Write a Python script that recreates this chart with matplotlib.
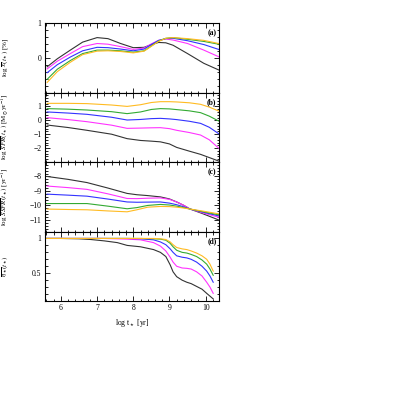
import numpy as np
import matplotlib
matplotlib.use("Agg")
import matplotlib.pyplot as plt
from matplotlib.ticker import MultipleLocator

plt.rcParams['font.family'] = ['Liberation Serif', 'DejaVu Serif']
plt.rcParams['mathtext.fontset'] = 'stix'

colors = ["#333333", "#ff33ff", "#3333ff", "#33aa33", "#ffbb22"]

# panel (a): log x(t*) [%]
t_a = [5.62, 5.9, 6.26, 6.6, 7.0, 7.3, 7.65, 8.0, 8.3, 8.5, 8.7, 8.9, 9.1, 9.5, 9.95, 10.36]
xa_black = [-0.26, -0.03, 0.22, 0.45, 0.58, 0.55, 0.41, 0.29, 0.30, 0.38, 0.44, 0.43, 0.36, 0.12, -0.16, -0.35]
xa_magenta = [-0.32, -0.10, 0.12, 0.32, 0.41, 0.39, 0.32, 0.24, 0.28, 0.40, 0.50, 0.54, 0.51, 0.41, 0.22, 0.03]
xa_blue = [-0.43, -0.20, 0.02, 0.20, 0.30, 0.29, 0.25, 0.20, 0.25, 0.38, 0.50, 0.55, 0.56, 0.49, 0.38, 0.24]
xa_green = [-0.62, -0.33, -0.08, 0.12, 0.22, 0.22, 0.20, 0.16, 0.20, 0.34, 0.48, 0.56, 0.58, 0.53, 0.47, 0.39]
xa_orange = [-0.71, -0.40, -0.13, 0.09, 0.19, 0.20, 0.18, 0.14, 0.19, 0.33, 0.47, 0.56, 0.58, 0.55, 0.50, 0.41]

# panel (b): log SFR(t*) [Msun/yr]
t_b = [5.62, 6.2, 6.72, 7.4, 7.83, 8.2, 8.5, 8.75, 9.0, 9.2, 9.55, 9.86, 10.1, 10.36]
sfr_black = [-0.34, -0.52, -0.72, -1.00, -1.32, -1.45, -1.50, -1.55, -1.70, -1.95, -2.22, -2.45, -2.68, -2.93]
sfr_magenta = [0.19, 0.05, -0.10, -0.35, -0.58, -0.56, -0.54, -0.53, -0.60, -0.72, -0.88, -1.06, -1.40, -2.00]
sfr_blue = [0.60, 0.52, 0.43, 0.22, 0.02, 0.06, 0.12, 0.14, 0.10, 0.05, -0.07, -0.22, -0.50, -0.96]
sfr_green = [0.84, 0.80, 0.74, 0.62, 0.48, 0.60, 0.78, 0.84, 0.82, 0.77, 0.68, 0.55, 0.30, -0.05]
sfr_orange = [1.22, 1.22, 1.20, 1.10, 1.00, 1.12, 1.28, 1.34, 1.34, 1.32, 1.26, 1.15, 0.95, 0.67]

# panel (c): log SSFR(t*) [1/yr]
t_c = [5.62, 6.2, 6.72, 7.3, 7.83, 8.1, 8.4, 8.75, 9.0, 9.2, 9.4, 9.57, 9.9, 10.36]
ssfr_black = [-8.00, -8.20, -8.42, -8.80, -9.17, -9.26, -9.32, -9.41, -9.55, -9.76, -10.00, -10.25, -10.55, -11.00]
ssfr_magenta = [-8.66, -8.77, -8.89, -9.20, -9.52, -9.53, -9.50, -9.48, -9.58, -9.76, -10.00, -10.25, -10.50, -10.81]
ssfr_blue = [-9.22, -9.29, -9.36, -9.56, -9.76, -9.78, -9.77, -9.76, -9.84, -9.95, -10.10, -10.25, -10.45, -10.72]
ssfr_green = [-9.87, -9.87, -9.87, -10.05, -10.23, -10.15, -10.00, -9.93, -9.97, -10.05, -10.15, -10.25, -10.42, -10.65]
ssfr_orange = [-10.25, -10.28, -10.30, -10.38, -10.44, -10.30, -10.12, -10.07, -10.08, -10.12, -10.18, -10.25, -10.38, -10.58]

# panel (d): eta*(t*)
t_d = [5.56, 6.0, 6.5, 6.82, 7.2, 7.56, 7.83, 8.2, 8.56, 8.75, 8.9, 9.02, 9.1, 9.2, 9.35, 9.48, 9.6, 9.75, 9.9, 10.03, 10.12, 10.21]
eta_black = [1.0, 1.0, 0.995, 0.985, 0.965, 0.94, 0.90, 0.88, 0.84, 0.80, 0.74, 0.62, 0.52, 0.45, 0.40, 0.37, 0.35, 0.31, 0.27, 0.21, 0.17, 0.13]
eta_magenta = [1.0, 1.0, 1.0, 1.0, 1.0, 0.995, 0.99, 0.98, 0.94, 0.89, 0.82, 0.73, 0.66, 0.60, 0.575, 0.57, 0.56, 0.52, 0.46, 0.37, 0.30, 0.21]
eta_blue = [1.0, 1.0, 1.0, 1.0, 1.0, 1.0, 1.0, 0.995, 0.98, 0.95, 0.91, 0.85, 0.80, 0.75, 0.73, 0.72, 0.70, 0.66, 0.60, 0.53, 0.46, 0.37]
eta_green = [1.0, 1.0, 1.0, 1.0, 1.0, 1.0, 1.0, 1.0, 0.995, 0.99, 0.975, 0.93, 0.88, 0.83, 0.80, 0.79, 0.77, 0.74, 0.69, 0.63, 0.56, 0.47]
eta_orange = [1.0, 1.0, 1.0, 1.0, 1.0, 1.0, 1.0, 1.0, 1.0, 0.995, 0.985, 0.95, 0.91, 0.87, 0.85, 0.84, 0.82, 0.79, 0.75, 0.70, 0.63, 0.53]

panels = [
    (t_a, [xa_black, xa_magenta, xa_blue, xa_green, xa_orange],
     (-1, 1), [1, 0], 0.2, r"log $\overline{x}(t_\star)$ [%]", "(a)"),
    (t_b, [sfr_black, sfr_magenta, sfr_blue, sfr_green, sfr_orange],
     (-3, 2), [1, 0, -1, -2], 0.2,
     r"log $\overline{SFR}(t_\star)$ [M$_\odot$yr$^{-1}$]", "(b)"),
    (t_c, [ssfr_black, ssfr_magenta, ssfr_blue, ssfr_green, ssfr_orange],
     (-11.8, -7), [-8, -9, -10, -11], 0.2,
     r"log $\overline{SSFR}(t_\star)$ [yr$^{-1}$]", "(c)"),
    (t_d, [eta_black, eta_magenta, eta_blue, eta_green, eta_orange],
     (0.1, 1.1), [1, 0.5], 0.1, r"$\overline{\eta_\star}(t_\star)$", "(d)"),
]

fig = plt.figure(figsize=(4.15, 4.15), dpi=100)
left, width = 45 / 415, 174 / 415
top = 1 - 23 / 415
h = (278 / 415) / 4

for i, (t, ys, ylim, yt, ymin, ylab, tag) in enumerate(panels):
    ax = fig.add_axes([left, top - (i + 1) * h, width, h])
    for y, c in zip(ys, colors):
        ax.plot(t, y, color=c, lw=0.8)
    ax.set_xlim(5.56, 10.37)
    ax.set_ylim(*ylim)
    ax.xaxis.set_major_locator(MultipleLocator(1))
    ax.xaxis.set_minor_locator(MultipleLocator(0.2))
    ax.set_yticks(yt)
    ax.set_yticklabels([("%g" % v).replace("-", "\u2212") for v in yt])
    ax.yaxis.set_minor_locator(MultipleLocator(ymin))
    ax.tick_params(which='both', direction='in', top=True, right=True,
                   labelsize=5.5, width=0.6, pad=2.5)
    ax.tick_params(which='major', length=3.5)
    ax.tick_params(which='minor', length=1.8)
    for s in ax.spines.values():
        s.set_linewidth(0.8)
    ax.set_ylabel(ylab, fontsize=5)
    ax.yaxis.set_label_coords(-0.2, 0.5)
    ax.text(0.985, 0.86, tag, transform=ax.transAxes, ha='right', va='center',
            fontsize=5.5, fontweight='bold')
    if i < 3:
        ax.tick_params(labelbottom=False)
    else:
        ax.set_xticks([6, 7, 8, 9, 10])
        ax.set_xlabel(r"log t$_\star$ [yr]", fontsize=5.5, labelpad=3)

fig.savefig("out.png", dpi=100)
